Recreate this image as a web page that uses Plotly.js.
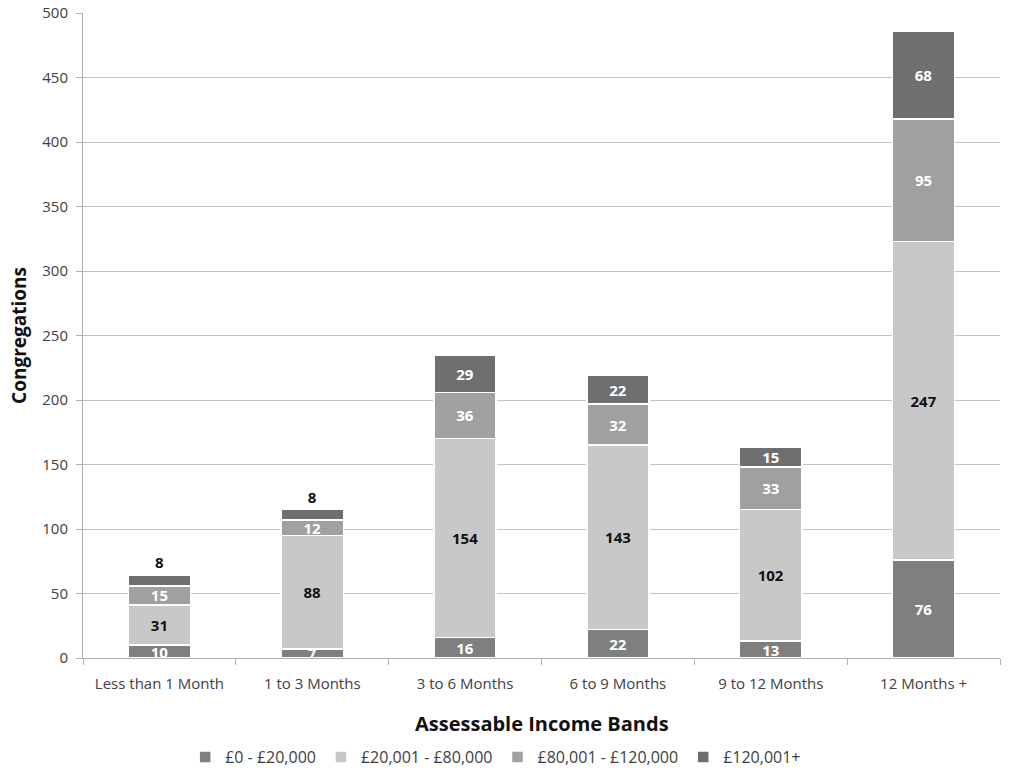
<!DOCTYPE html>
<html>
<head>
<meta charset="utf-8">
<script src="https://cdn.plot.ly/plotly-3.0.1.min.js"></script>
<style>html,body{margin:0;padding:0;background:#fff;}#chart{width:1022px;height:776px;}</style>
</head>
<body>
<div id="chart"></div>
<script>
const categories = ["Less than 1 Month", "1 to 3 Months", "3 to 6 Months", "6 to 9 Months", "9 to 12 Months", "12 Months +"];
const seriesNames = ["£0 - £20,000", "£20,001 - £80,000", "£80,001 - £120,000", "£120,001+"];
const band0to20 = [10, 7, 16, 22, 13, 76];
const band20to80 = [31, 88, 154, 143, 102, 247];
const band80to120 = [15, 12, 36, 32, 33, 95];
const band120plus = [8, 8, 29, 22, 15, 68];
const xTitle = "Assessable Income Bands";
const yTitle = "Congregations";

const colors = ["#7f7f7f", "#c8c8c8", "#a0a0a0", "#6f6f6f"];
const textColors = ["#ffffff", "#111111", "#ffffff", "#ffffff"];
const values = [band0to20, band20to80, band80to120, band120plus];
const font = "Open Sans, Lato, sans-serif";

const traces = values.map((v, i) => {
  let pos = v.map(() => "inside");
  let tcol = v.map(() => textColors[i]);
  if (i === 3) {
    pos = v.map(x => x < 10 ? "outside" : "inside");
    tcol = v.map(x => x < 10 ? "#111111" : textColors[i]);
  }
  return {
    type: "bar",
    name: seriesNames[i],
    x: categories,
    y: v,
    text: v.map(String),
    textposition: pos,
    textangle: 0,
    insidetextanchor: "middle",
    constraintext: "none",
    cliponaxis: false,
    textfont: {family: font, size: 15, color: tcol, weight: "bold"},
    outsidetextfont: {family: font, size: 15, color: "#111111", weight: "bold"},
    insidetextfont: {family: font, size: 15, color: tcol, weight: "bold"},
    marker: {color: colors[i], line: {color: "#ffffff", width: 1.5}},
    hoverinfo: "x+y+name"
  };
});

const layout = {
  width: 1022,
  height: 776,
  margin: {l: 83, r: 22, t: 13, b: 118, autoexpand: false},
  barmode: "stack",
  bargap: 0.594,
  paper_bgcolor: "#ffffff",
  plot_bgcolor: "#ffffff",
  font: {family: font, size: 15, color: "#404040"},
  showlegend: true,
  legend: {
    orientation: "h",
    x: 0.485, xanchor: "center", xref: "container",
    y: 19 / 776, yanchor: "middle", yref: "container",
    font: {family: font, size: 16, color: "#404040"},
    traceorder: "normal",
    itemwidth: 30
  },
  annotations: [{
    text: xTitle,
    xref: "paper", yref: "paper",
    x: 0.5, y: -0.1008,
    xanchor: "center", yanchor: "middle",
    showarrow: false,
    font: {family: font, size: 20, color: "#111111", weight: "bold"}
  }],
  xaxis: {
    type: "category",
    showgrid: false,
    showline: true,
    linecolor: "#b0b0b0",
    linewidth: 1,
    ticks: "outside",
    tickson: "boundaries",
    ticklen: 6,
    tickcolor: "#b0b0b0",
    ticklabelstandoff: 12,
    tickfont: {family: font, size: 15, color: "#404040"}
  },
  yaxis: {
    range: [0, 500],
    dtick: 50,
    showgrid: true,
    gridcolor: "#c4c4c4",
    gridwidth: 1,
    showline: true,
    linecolor: "#b0b0b0",
    linewidth: 1,
    ticks: "outside",
    ticklen: 6,
    tickcolor: "#b0b0b0",
    ticklabelstandoff: 5,
    zeroline: false,
    tickfont: {family: font, size: 15, color: "#404040"},
    title: {text: yTitle, font: {family: font, size: 19, color: "#111111", weight: "bold"}, standoff: 10}
  }
};

Plotly.newPlot("chart", traces, layout, {displayModeBar: false, staticPlot: true});
</script>
</body>
</html>
